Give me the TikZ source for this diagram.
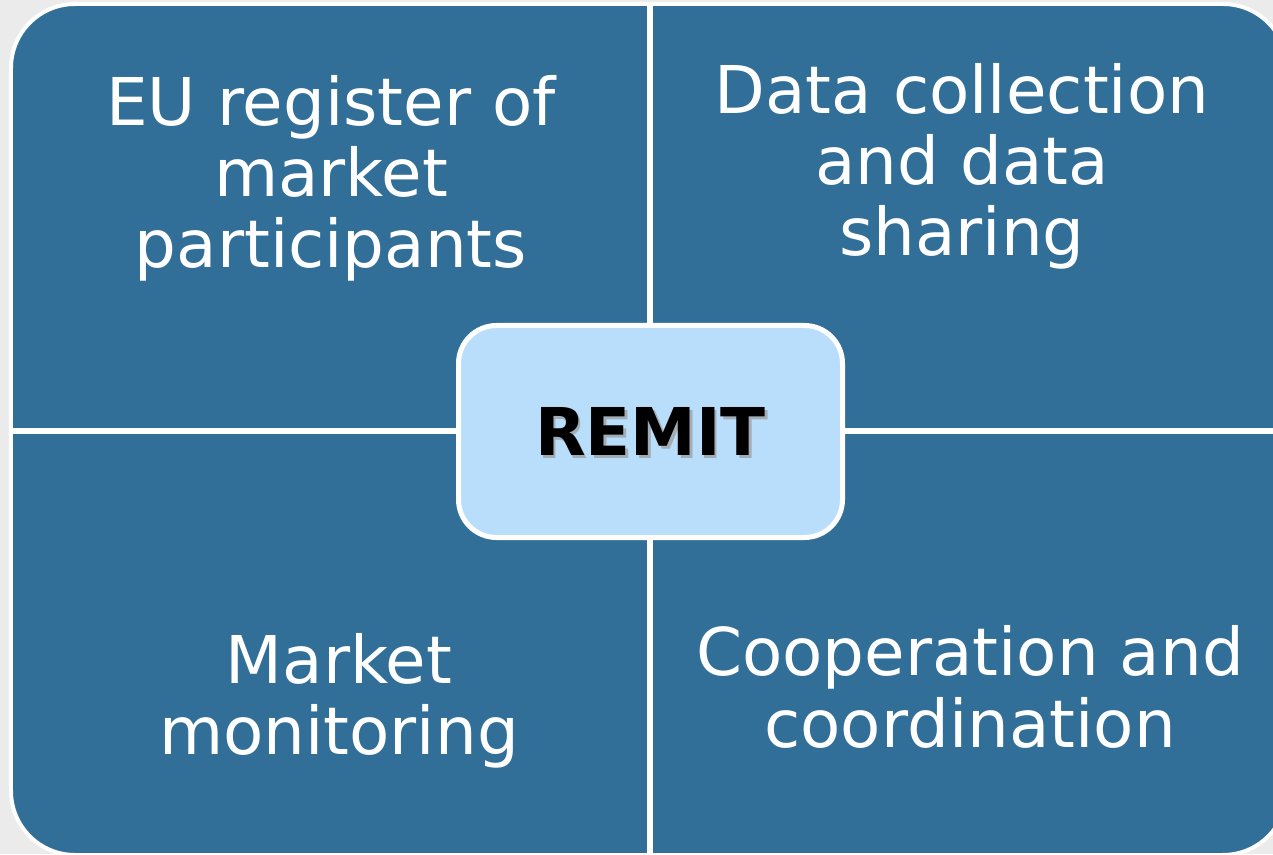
\documentclass[tikz,border=0pt]{standalone}
\usepackage{fontspec}
\setmainfont{DejaVu Sans}
\usetikzlibrary{calc}
\definecolor{remitblue}{RGB}{49,111,152}
\definecolor{remitlight}{RGB}{185,222,251}
\definecolor{pagegray}{RGB}{235,235,235}
\tikzset{
	quadtext/.style={text=white, align=center, font=\fontsize{37.5}{40.5}\selectfont},
	remittext/.style={font=\fontsize{37.5}{40.5}\selectfont\bfseries},
	divider/.style={line width=0.12cm, color=white},
}

\begin{document}
\begin{tikzpicture}
			%%%%% START %%%%%
			
			\fill[pagegray] (0, 0) rectangle (25.46, 17.08);
			\useasboundingbox (0, 0) rectangle (25.46, 17.08);
			
			\node[draw=white, line width=0.08cm, fill=remitblue, rounded corners=1.28cm, minimum width=25.52cm, minimum height=17.02cm, inner sep=0pt] (frame) at (12.98, 8.49) {};
			
			\coordinate (hub) at (13.0, 8.46);
			\draw[divider] (frame.north -| hub) -- (frame.south -| hub);
			\draw[divider] (frame.west |- hub) -- (frame.east |- hub);
			
			\node[draw=white, line width=0.1cm, fill=remitlight, rounded corners=0.76cm, minimum width=7.68cm, minimum height=4.24cm, inner sep=0pt] (remitbox) at (13.01, 8.45) {};
			\node[remittext, text=black!40, opacity=0.7] (remitshadow) at ($(remitbox.center)+(0.05, -0.05)$) {REMIT};
			\node[remittext] (remit) at (remitbox.center) {REMIT};
			
			\node[quadtext] (register) at (6.62, 13.52) {EU register of\\market\\participants};
			\node[quadtext] (collection) at (19.24, 13.76) {Data collection\\and data\\sharing};
			\node[quadtext] (monitoring) at (6.78, 3.06) {Market\\monitoring};
			\node[quadtext] (cooperation) at (19.40, 3.34) {Cooperation and\\coordination};
			
			%%%%% END %%%%%
\end{tikzpicture}
\end{document}
